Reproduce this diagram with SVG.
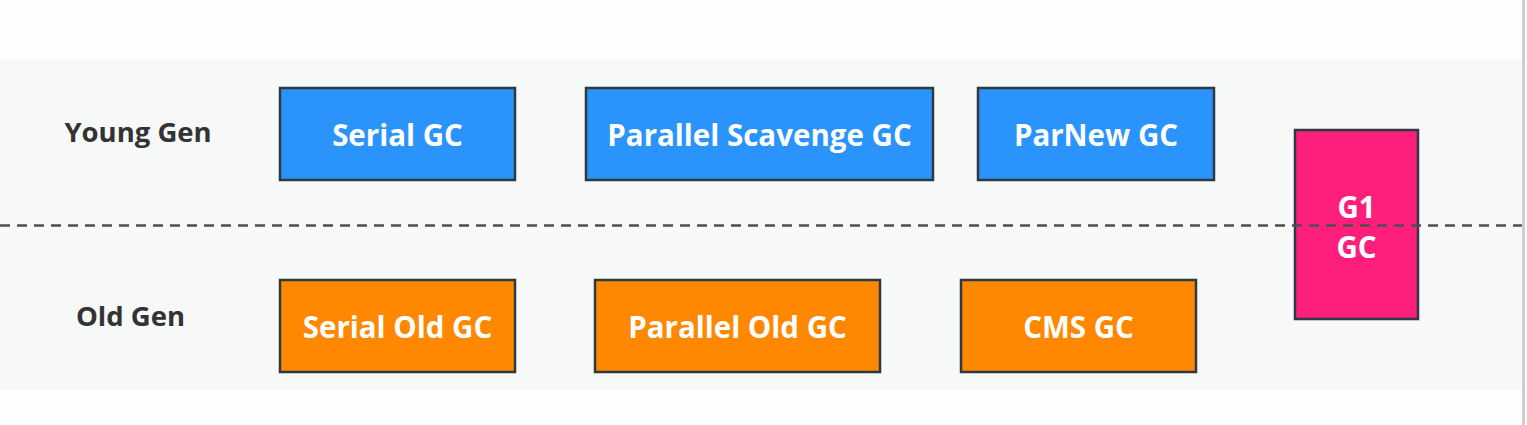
<svg xmlns="http://www.w3.org/2000/svg" width="1527" height="425" viewBox="0 0 1527 425">
<style>
.box{stroke:#2f3a40;stroke-width:2.5}
.young{fill:#2a93fc}
.old{fill:#ff8800}
.g1{fill:#fd1f7b}
.t{font-family:"Open Sans","Noto Sans","DejaVu Sans",sans-serif;font-weight:bold;font-size:29.5px;fill:#ffffff;text-anchor:middle;dominant-baseline:central}
.lbl{font-family:"Open Sans","Noto Sans","DejaVu Sans",sans-serif;font-weight:bold;font-size:27.5px;fill:#333333;text-anchor:middle;dominant-baseline:central}
</style>
<rect x="0" y="0" width="1527" height="425" fill="#fdfdfd"/>
<rect x="0" y="60" width="1522" height="330" fill="#f7f8f8"/>
<line x1="1523.5" y1="0" x2="1523.5" y2="425" stroke="#cfcfcf" stroke-width="3"/>
<g id="labels">
<text class="lbl" x="138" y="131">Young Gen</text>
<text class="lbl" x="130.5" y="315">Old Gen</text>
</g>
<g id="serial-gc"><rect class="box young" x="280" y="88" width="235" height="92"/><text class="t" x="397.5" y="134">Serial GC</text></g>
<g id="parallel-scavenge-gc"><rect class="box young" x="586" y="88" width="347" height="92"/><text class="t" x="759.5" y="134">Parallel Scavenge GC</text></g>
<g id="parnew-gc"><rect class="box young" x="978" y="88" width="236" height="92"/><text class="t" x="1096" y="134">ParNew GC</text></g>
<g id="serial-old-gc"><rect class="box old" x="280" y="280" width="235" height="92"/><text class="t" x="397.5" y="326">Serial Old GC</text></g>
<g id="parallel-old-gc"><rect class="box old" x="595" y="280" width="285" height="92"/><text class="t" x="737.5" y="326">Parallel Old GC</text></g>
<g id="cms-gc"><rect class="box old" x="961" y="280" width="235" height="92"/><text class="t" x="1078.5" y="326">CMS GC</text></g>
<g id="g1-gc"><rect class="box g1" x="1295" y="130" width="123" height="189"/><text class="t" x="1356.5" y="206">G1</text><text class="t" x="1356.5" y="246">GC</text></g>
<g id="connectors">
<line x1="0" y1="225.5" x2="1522" y2="225.5" stroke="#4f4f4f" stroke-width="2.5" stroke-dasharray="10 7"/>
</g>
</svg>
